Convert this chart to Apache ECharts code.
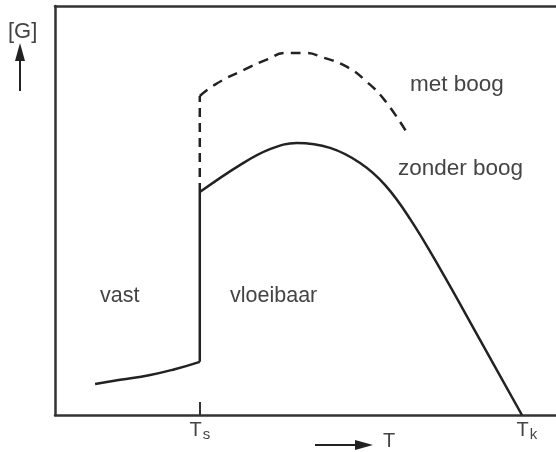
<!DOCTYPE html>
<html>
<head>
<meta charset="utf-8">
<script src="https://cdn.jsdelivr.net/npm/echarts@6/dist/echarts.min.js"></script>
<style>html,body{margin:0;padding:0;background:#fff;}#c{width:556px;height:452px;}</style>
</head>
<body>
<div id="c"></div>
<script>
// Temperature positions (arbitrary units, 0-100 along the T axis)
const Ts = 28.9;
const Tk = 93.2;
const tickLabels = ['s', 'k'];

// Solid state branch ("vast")
const vastX = [8.0, 13.0, 19.0, 23.9, 28.9];
const vastY = [7.6, 8.6, 9.8, 11.2, 13.0];

// Jump at Ts (solid line)
const jumpX = [28.9, 28.9];
const jumpY = [13.0, 54.5];

// Liquid branch without arc ("zonder boog")
const zonderX = [28.9, 36.9, 42.9, 48.3, 54.9, 60.9, 65.9, 70.9, 76.8, 85.0, 93.2];
const zonderY = [54.5, 61.1, 65.0, 66.5, 65.3, 61.6, 56.2, 47.9, 35.9, 18.0, 0.0];

// Dashed jump at Ts
const dashJumpX = [28.9, 28.9];
const dashJumpY = [54.5, 78.0];

// Liquid branch with arc ("met boog")
const metX = [28.9, 32.1, 37.7, 42.5, 45.9, 49.9, 53.3, 58.3, 62.3, 65.9, 70.3];
const metY = [78.0, 80.9, 84.4, 87.0, 88.5, 88.5, 87.5, 85.1, 81.4, 76.8, 68.9];

const zip = (xs, ys) => xs.map((x, i) => [x, ys[i]]);

const lineColor = '#222';
const textColor = '#444';
const font = 'Liberation Sans';

const chart = echarts.init(document.getElementById('c'), null, {renderer: 'canvas'});
chart.setOption({
  animation: false,
  backgroundColor: '#fff',
  grid: {left: 55, right: 0, top: 6, bottom: 37, containLabel: false},
  xAxis: [{
    type: 'value', min: 0, max: 100,
    axisLine: {show: true, lineStyle: {color: '#333', width: 2.5}},
    splitLine: {show: false},
    axisTick: {show: true, inside: true, length: 13, customValues: [Ts], lineStyle: {color: '#333', width: 2}},
    axisLabel: {
      show: true, customValues: [Ts, Tk], margin: 5,
      formatter: v => (Math.abs(v - Ts) < 0.01 ? '{t|T}{s|' + tickLabels[0] + '}' : '{tk|T}{s|' + tickLabels[1] + '}'),
      rich: {
        t: {fontSize: 20, fontFamily: font, color: textColor, lineHeight: 22, verticalAlign: 'top'},
        tk: {fontSize: 20, fontFamily: font, color: textColor, lineHeight: 22, verticalAlign: 'top', padding: [0, 0, 0, 10]},
        s: {fontSize: 15, fontFamily: font, color: textColor, lineHeight: 15, padding: [14, 0, 0, 1], verticalAlign: 'bottom'}
      }
    }
  }, {
    type: 'value', min: 0, max: 100, position: 'top',
    axisLine: {show: true, lineStyle: {color: '#333', width: 2.5}},
    splitLine: {show: false}, axisTick: {show: false}, axisLabel: {show: false}
  }],
  yAxis: {
    type: 'value', min: 0, max: 100,
    axisLine: {show: true, lineStyle: {color: '#333', width: 2.5}},
    splitLine: {show: false}, axisTick: {show: false}, axisLabel: {show: false}
  },
  series: [
    {type: 'line', data: zip(vastX, vastY), smooth: 0.5, showSymbol: false, lineStyle: {color: lineColor, width: 2.5}},
    {type: 'line', data: zip(jumpX, jumpY), showSymbol: false, lineStyle: {color: lineColor, width: 2.5}},
    {type: 'line', data: zip(zonderX, zonderY), smooth: 0.4, showSymbol: false, lineStyle: {color: lineColor, width: 2.5}},
    {type: 'line', data: zip(dashJumpX, dashJumpY), showSymbol: false, lineStyle: {color: lineColor, width: 2.5, type: [9, 6]}},
    {type: 'line', data: zip(metX, metY), smooth: 0.5, showSymbol: false, lineStyle: {color: lineColor, width: 2.5, type: [10, 7]}}
  ],
  graphic: [
    {type: 'text', left: 8, top: 21, style: {text: '[G]', font: '22px "Liberation Sans"', fill: textColor}},
    {type: 'line', shape: {x1: 20, y1: 91, x2: 20, y2: 58}, style: {stroke: '#222', lineWidth: 2}},
    {type: 'polygon', shape: {points: [[15, 61], [25, 61], [20, 43]]}, style: {fill: '#222'}},
    {type: 'text', x: 410, y: 85, style: {text: 'met boog', font: '22.5px "Liberation Sans"', fill: textColor, verticalAlign: 'middle'}},
    {type: 'text', x: 398, y: 169, style: {text: 'zonder boog', font: '22.5px "Liberation Sans"', fill: textColor, verticalAlign: 'middle'}},
    {type: 'text', x: 100, y: 296, style: {text: 'vast', font: '21.5px "Liberation Sans"', fill: textColor, verticalAlign: 'middle'}},
    {type: 'text', x: 230, y: 296, style: {text: 'vloeibaar', font: '21.5px "Liberation Sans"', fill: textColor, verticalAlign: 'middle'}},
    {type: 'line', shape: {x1: 315, y1: 445, x2: 358, y2: 445}, style: {stroke: '#222', lineWidth: 2}},
    {type: 'polygon', shape: {points: [[355, 440], [355, 450], [373, 445]]}, style: {fill: '#222'}},
    {type: 'text', x: 383, y: 441, style: {text: 'T', font: '20px "Liberation Sans"', fill: textColor, verticalAlign: 'middle'}}
  ]
});
</script>
</body>
</html>
